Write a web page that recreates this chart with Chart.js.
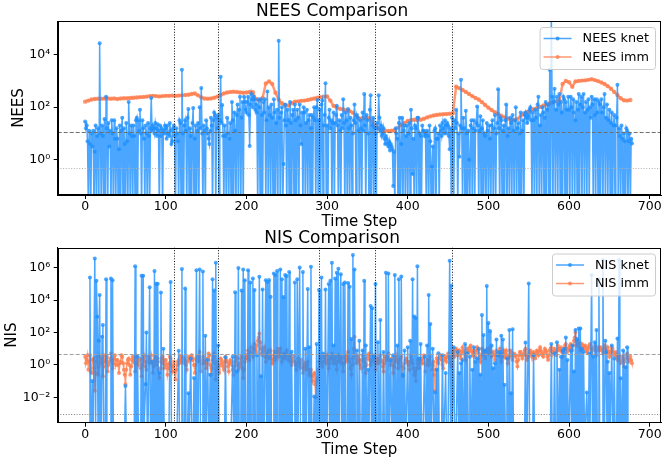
<!DOCTYPE html>
<html>
<head>
<meta charset="utf-8">
<script src="https://cdn.jsdelivr.net/npm/chart.js@4.4.0/dist/chart.umd.min.js"></script>
<style>
  body { margin: 0; background: #fff; }
  #wrap { position: relative; width: 665px; height: 462px; }
  canvas { position: absolute; left: 0; }
</style>
</head>
<body>
<div id="wrap">
  <canvas id="neesChart" width="665" height="231" style="top:0px"></canvas>
  <canvas id="nisChart" width="665" height="238" style="top:224px"></canvas>
</div>
<script>
// values are log10 of the metric (one row = 20 time steps)
// knet series and NIS imm: one value per time step, NEES imm: every 4 steps
const knetStep = 1;
const nisImmStep = 1;
const neesImmStep = 4;

const neesKnet = [
  1.45, 1.2, 1.3, 0.7, -2, 1.1, 0.6, -2, 1.0, 0.5, 1.1, -2, 0.3, 1.3, -2, 0.9, 1.2, -2, 4.43, 1.0,
  -2, 1.3, 0.9, -2, 1.55, -2, 2.4, 1.2, -2, 1.4, 0.5, 1.1, -2, 1.5, 1.0, -2, 1.5, 0.8, -2, 1.2,
  0.8, -2, 0.4, 1.3, -2, 1.1, 1.6, -2, 1.2, 0.6, -2, 1.4, 0.7, -2, 2.2, 1.0, -2, 1.3, 0.9, -2,
  1.3, 0.9, -2, 1.5, 1.6, -2, 1.5, 1.1, 1.9, 1.0, -2, 1.5, 1.2, 0.8, -2, 1.3, 1.0, -2, 1.4, 0.9,
  -2, 1.2, 2.35, 1.1, 1.3, 1.2, 1.0, 1.4, 1.2, 0.9, 1.35, 1.1, -2, 1.3, 0.9, 1.2, -2, 1.1, 1.0, 1.3,
  1.2, 0.8, 1.3, 1.0, 0.9, 1.4, 1.1, 0.6, 0.7, 1.2, 1.3, 0.9, -2, 1.2, 1.0, 0.7, -2, 1.5, 1.4, -2,
  3.42, 1.0, -2, 1.3, 1.5, 1.1, -2, 1.6, 1.93, -2, 1.2, 0.9, -2, 1.4, 1.97, -2, 0.8, 1.3, -2, 1.1,
  1.4, -2, 2.0, 1.2, 2.73, 1.0, -2, 1.3, 1.1, -2, 1.5, 1.2, 1.0, 0.8, 0.6, 1.1, 1.6, 1.3, -2, 1.5,
  1.8, 1.7, -2, 1.6, 1.2, 1.7, -2, 1.5, 3.16, 1.4, 2.08, 0.9, -2, 1.3, 0.9, -2, 1.6, 1.0, -2, 0.8,
  1.4, -2, 2.2, 1.5, -2, 1.8, 1.1, -2, 1.7, 2.1, -2, 1.9, 2.4, -2, 1.6, 2.2, -2, 2.4, 2.2, 1.9,
  1.8, 2.2, 2.4, 1.7, 0.52, 2.1, 2.5, 2.3, 2.0, 2.4, 2.3, 1.9, 2.1, 1.8, -2, 2.3, 2.0, -2, 2.3, 1.7,
  -2, 2.2, 1.8, 2.3, -2, 1.5, 2.6, -2, 2.0, 1.7, -2, 2.1, 1.6, -2, 2.3, 1.8, -2, 1.4, 1.9, -2,
  4.53, 1.6, -2, 1.8, 2.0, -2, -0.16, 1.5, 2.1, 1.3, -2, 1.9, 1.5, -2, 2.2, 1.4, -2, 1.7, 1.9, -2,
  2.1, 1.5, -2, 1.9, 1.6, -2, 2.1, 1.3, 0.6, 1.8, -2, 2.0, 1.8, -2, 1.4, 1.9, -2, 1.5, 1.7, -2,
  1.2, 1.7, -2, 1.6, 2.0, 1.5, -2, 2.0, 2.27, -2, 1.5, 1.9, -2, 2.1, 2.25, -2, 1.3, 1.7, 2.91, -2,
  1.3, -2, 1.6, 1.9, 1.2, 1.5, -2, 1.4, 1.8, -2, 1.4, 1.7, 2.05, 1.3, -2, 1.5, 1.1, -2, 1.7, 1.2,
  2.3, 1.4, -2, 1.8, 1.5, -2, 1.93, 1.2, -2, 1.6, 1.3, -2, 1.0, 1.5, 2.1, 1.4, -2, 1.7, 1.6, 1.1,
  -2, 1.5, 1.2, -2, 1.8, 1.1, 2.5, 1.3, -2, 1.7, 1.5, 1.0, -2, 1.9, 2.45, -2, 1.3, 1.6, -2, 1.2,
  1.0, -2, 1.4, 1.2, 2.45, 1.6, 1.1, 1.3, 0.9, 1.0, 1.2, 0.8, 0.6, 0.9, 0.8, 0.6, 0.5, 0.7, 0.35, 0.6,
  0.5, 0.4, -1.0, 0.3, -2, 1.2, 1.0, 0.8, -2, 1.4, 1.6, -2, 0.6, 1.6, -2, 1.1, 1.3, -2, 0.9, 1.3,
  -2, 1.0, 1.4, -2, 1.9, 1.2, -0.55, 0.8, -2, 1.3, 1.2, -2, 1.6, 1.6, -2, 1.0, 0.9, -2, 1.3, 1.1,
  1.1, 0.9, 1.0, -2, 1.1, 0.9, -2, 1.3, 0.7, -2, -0.27, 0.5, -2, 1.1, 1.2, -2, 0.8, 0.8, 1.0, -2,
  1.3, 1.1, 0.9, 1.4, 1.2, 1.0, 1.5, 1.3, 1.0, 1.4, 1.3, 0.9, 0.4, 1.2, -2, 1.6, 1.1, -2, 1.5, 1.2,
  1.9, 1.4, -2, 1.0, 0.11, 1.3, 3.04, 1.2, -2, 1.6, 1.2, -2, 1.86, 1.0, -2, 1.1, 0.0, -2, 1.3, 1.5,
  -2, 1.2, 1.5, -2, 1.1, 1.4, 2.02, 1.3, -2, 1.1, 1.65, -2, 1.2, 1.5, -2, 1.0, 0.9, -2, 1.4, 1.1,
  -2, 1.3, 0.8, -2, 1.3, 1.5, -2, 1.2, 1.7, -2, 1.0, 1.4, 2.68, 1.2, -2, 1.6, 1.5, -2, 1.1, 1.3,
  -2, 1.5, 2.1, -2, 0.9, 1.2, -2, 1.6, 1.4, -2, 1.7, 1.1, -2, 1.5, 2.0, -2, 1.2, 1.4, -2, 1.0,
  1.8, -2, 1.1, 1.5, -2, 1.7, 1.8, 1.6, 1.4, 1.7, 1.6, 1.9, 2.0, 1.5, -2, 1.8, 1.5, -2, 1.9, 1.6,
  -2, 2.1, 2.4, -2, 1.3, 1.7, -2, 2.0, 1.8, -2, 1.6, 2.2, -2, 1.9, 2.1, -2, 3.42, -2, 5.6, 2.4,
  -2, 2.2, 2.7, -2, 1.9, 2.4, -2, 2.1, 2.5, -2, 2.2, 1.8, -2, 2.4, 2.3, -2, 2.2, 1.9, -2, 2.4,
  1.9, -2, 2.4, 2.0, -2, 2.3, 1.8, -2, 1.5, 2.2, -2, 1.9, 2.5, -2, 2.1, 2.4, -2, 2.0, 2.5, -2,
  1.8, 2.2, -2, 1.9, 2.3, -2, 2.0, 1.6, 2.4, 2.1, -2, 2.3, 1.7, -2, 2.3, 1.8, -2, 2.2, 2.1, -2,
  2.3, 1.8, -2, 2.0, 2.5, -2, 1.6, 2.1, -2, 1.5, 1.9, -2, 1.4, 1.8, -2, 1.3, 1.7, -2, 1.3, 1.6,
  2.85, -2, 1.2, 0.9, -2, 1.3, 0.8, -2, 1.0, 0.7, -2, 1.2, 1.1, -2, 0.7, 1.0, -2, 0.8, 0.62
];

const neesImm = [
  2.21, 2.25, 2.29, 2.31, 2.32, 2.32, 2.33, 2.33, 2.32, 2.33,
  2.31, 2.33, 2.34, 2.34, 2.35, 2.36, 2.37, 2.38, 2.39, 2.40,
  2.42, 2.43, 2.42, 2.41, 2.42, 2.43, 2.43, 2.44, 2.43, 2.44,
  2.45, 2.46, 2.47, 2.50, 2.52, 2.45, 2.37, 2.33, 2.32, 2.33,
  2.36, 2.40, 2.46, 2.52, 2.56, 2.58, 2.59, 2.58, 2.56, 2.55,
  2.56, 2.58, 2.57, 2.30, 2.24, 2.35, 2.90, 2.98, 2.88, 2.55,
  2.28, 2.15, 2.07, 2.06, 2.15, 2.21, 2.22, 2.24, 2.25, 2.27,
  2.30, 2.33, 2.36, 2.38, 2.40, 2.41, 2.25, 2.05, 1.98, 1.94,
  1.91, 1.88, 1.85, 1.79, 1.66, 1.57, 1.58, 1.59, 1.58, 1.45,
  1.27, 1.18, 1.13, 1.10, 1.09, 1.10, 1.12, 1.22, 1.32, 1.40,
  1.47, 1.51, 1.52, 1.51, 1.52, 1.56, 1.61, 1.65, 1.68, 1.70,
  1.72, 1.73, 1.74, 1.75, 1.77, 2.78, 2.72, 2.65, 2.58, 2.50,
  2.42, 2.35, 2.29, 2.19, 2.08, 1.98, 1.89, 1.81, 1.74, 1.67,
  1.61, 1.56, 1.52, 1.51, 1.55, 1.66, 1.76, 1.82, 1.87, 1.92,
  1.96, 2.01, 2.06, 2.10, 2.14, 2.18, 2.22, 2.26, 2.88, 3.00,
  2.95, 2.78, 2.98, 3.00, 3.01, 3.02, 3.04, 3.06, 3.03, 2.99,
  2.94, 2.88, 2.80, 2.70, 2.58, 2.46, 2.34, 2.26, 2.25, 2.27
];

const nisKnet = [
  -4, -4, -4, -4, -4, -4, 5.41, -4, -4, -1.0, -4, -4, 6.58, -4, 5.2, 2.98, -4, 1.5, 4.32, -4,
  -4, 1.75, 2.47, -4, -4, -4, 5.29, -4, -4, -4, -4, -4, 5.35, -4, 5.23, -4, -4, -4, -4, -4,
  -4, -4, -4, -4, -4, -4, -4, -4, -4, -4, -1.3, -4, -4, -4, -4, -4, -4, -4, -4, -4,
  -4, -4, 6.1, -4, -4, 0.5, -4, -4, -4, -4, 5.51, -4, 5.51, -4, -4, -1.2, 2.0, -4, -4, -4,
  4.8, -4, -4, 0.2, -4, -4, 5.8, -4, 5.02, -4, 5.02, -4, -0.5, -4, 4.48, -4, -4, 1.0, -4, -4,
  -4, -4, -4, -4, -4, -4, 5.12, -4, -4, -4, -4, -4, -4, -4, -4, -4, 0.88, -4, -4, -4,
  5.93, -4, -4, -4, 4.73, -4, -4, -4, -1.75, -4, -4, 0.4, -4, -4, -4, -0.8, -4, -4, 5.86, -4,
  -4, -4, 5.9, -4, -4, -4, 5.77, -4, -4, 1.8, -4, -4, 0.3, -4, -4, -0.6, -4, -4, 5.3, -4,
  4.6, -4, 6.32, -4, -4, 1.2, -4, -4, -4, -4, -4, -4, -4, -4, 0.47, -4, -4, -4, -4, -4,
  -4, -4, -4, 0.5, -4, -4, 4.5, -4, -0.4, -4, 5.99, -4, -4, -4, 4.6, -4, 5.9, -4, 5.23, -4,
  -4, -4, 5.86, -4, -4, 5.1, -4, -4, 5.35, -4, 4.63, -4, -4, 0.6, -4, -4, 5.45, -4, -0.7, -4,
  4.67, -4, -4, -4, 5.23, -4, 5.13, -4, 5.25, -4, 4.22, -4, -4, -4, 5.66, -4, 5.56, -4, 5.8, -4,
  -4, -4, 5.9, -4, 5.29, -4, 4.2, -4, 5.56, -4, 5.5, -4, -4, 5.75, -4, -4, 0.82, -4, -4, -4,
  5.1, -4, -4, 5.3, -4, -4, 6.03, -4, -4, -4, 5.75, -4, -4, 1.0, -4, -4, 4.7, -4, 1.1, -4,
  6.07, -4, -4, -4, -1.95, -4, -4, 1.3, -4, -4, 4.63, -4, -4, 5.4, -4, 0.7, -4, -4, 4.67, -4,
  -4, -4, 5.0, -4, 5.2, -4, 6.32, -4, 1.2, -4, 5.35, -4, 5.7, -4, 5.95, -4, -4, 5.6, -4, -4,
  5.0, -4, 5.1, -4, -4, -4, 5.06, -4, 4.83, -4, 1.6, -4, 6.79, -4, 5.9, -4, -4, 0.9, -4, -4,
  1.5, -4, -4, -4, 0.9, -4, 5.2, -4, 1.2, -4, -4, -0.3, -4, -4, 3.64, -4, 3.5, -4, 0.5, -4,
  5.0, -4, -4, 1.4, -4, -4, 2.78, -4, -4, -4, 0.8, -4, -4, 5.7, -4, -4, 5.66, -4, -4, 0.3,
  -4, -4, 0.6, -4, 5.56, -4, -4, 1.2, -4, 5.3, -4, -4, 5.46, -4, -0.6, -4, 0.9, -4, -4, -4,
  1.1, -4, -4, 1.5, -4, -4, 5.3, -4, 3.0, -4, 2.9, -4, 6.1, -4, 0.4, -4, 1.3, -4, -4, -4,
  -4, 0.5, -4, -4, 1.2, -4, 4.32, -4, 2.53, -4, -4, 1.0, -4, -4, -1.7, -4, -0.3, -4, 0.72, -4,
  -4, -4, -4, 0.6, -4, -4, -4, -0.5, -4, -4, -4, -4, 6.44, -4, 4.9, -4, -4, 1.1, -4, -4,
  -4, -4, 0.8, -4, -0.5, -4, 0.1, -4, 0.3, -4, -4, 1.3, -4, -4, 0.72, -4, -4, 0.5, -4, -4,
  -0.3, -4, 1.1, -4, 0.2, -4, 0.4, -4, 1.0, -4, -0.6, -4, 3.09, -4, 1.85, -4, 0.9, -4, 4.88, -4,
  2.6, -4, 2.1, -4, 1.2, -4, -0.2, -4, 0.1, -4, 1.58, -4, 0.6, -4, 0.8, -4, 1.8, -4, 1.58, -4,
  -1.23, -4, -4, 0.4, -4, -4, 2.16, -4, -1.75, -4, 2.2, -4, -4, -4, -4, -4, -4, -4, -4, -4,
  -4, -4, -4, -4, -4, -4, 1.38, -4, -4, -4, 5.04, -4, -4, -4, -4, -4, 0.6, -4, -4, -4,
  -4, -4, -4, -4, -4, -4, -4, -4, -4, -4, -4, -4, -4, -4, -4, -4, -4, -4, 1.3, -4,
  -4, -4, 0.72, -4, -4, 1.4, -4, -4, -0.3, -4, 0.5, -4, 0.9, -4, 1.0, -4, 1.7, -4, 0.31, -4,
  -4, -4, 0.9, -4, 1.2, -4, -0.4, -4, 2.16, -4, 1.6, -4, 2.26, -4, 2.26, -4, 1.0, -4, 0.82, -4,
  -4, -4, -1.7, -4, -4, 0.7, -4, -4, 5.56, -4, 0.5, -4, 1.4, -4, 2.16, -4, -4, 5.3, -4, -4,
  -4, -4, 6.48, -4, -4, 1.5, 0.8, -4, 0.2, -4, -0.5, -4, -4, 1.2, -4, -4, 0.4, -4, -4, -4,
  1.64, -4, 6.48, -4, -0.82, -4, -4, 0.9, -4, -4, -0.15, -4, 1.1, -4, -4, -4, -4, -4, -4
];

const nisImm = [
  0.5, 0.1, 0.3, 0.6, -0.3, 0.2, 0.6, -0.4, -0.5, 0.3, 0.4, -0.2, -1.6, -0.5, 0.2, 0.5, -0.6, -0.1, 0.5, 0.2,
  0.1, 0.4, -0.7, -0.1, 0.6, 0.2, 0.3, 0.5, -0.4, 0.0, 0.2, 0.4, 0.7, 0.3, -0.2, 0.1, 0.4, 0.6, 0.0, 0.3,
  0.3, 0.0, -0.5, 0.1, 0.2, 0.6, 0.5, 0.1, -0.3, -0.6, -1.2, -0.3, 0.1, 0.3, 0.4, 0.0, -0.6, -0.1, 0.3, 0.5,
  0.2, 0.4, -0.4, 0.1, 0.5, 0.2, 0.0, 0.4, 0.3, -0.2, -0.7, 0.0, 0.4, 0.6, 0.2, -0.1, -0.3, 0.2, 0.5, 0.3,
  0.1, 0.3, 0.6, 0.1, -0.5, -0.1, 0.3, 0.5, 0.0, 0.2, 0.4, -0.3, -0.8, -0.2, 0.2, 0.4, 0.5, 0.1, -0.2, 0.3,
  0.3, 0.0, -0.6, -0.2, 0.1, 0.5, 0.4, 0.0, -0.4, -0.1, 0.2, -0.4, -0.9, -0.3, 0.0, 0.2, 0.3, 0.1, 0.5, 0.3,
  0.2, 0.5, 0.4, 0.1, 0.3, 0.0, -0.3, 0.2, 0.5, 0.4, 0.3, 0.5, 0.6, 0.3, 0.4, 0.0, -0.5, 0.0, 0.3, 0.5,
  0.2, 0.5, 0.8, 0.3, -0.4, 0.1, 0.5, 0.3, 0.1, 0.2, -0.2, 0.1, 0.4, 0.7, 0.6, 0.0, -0.6, -0.2, 0.3, 0.5,
  0.7, 0.1, -0.9, -0.3, 0.2, -0.1, -0.5, 0.0, 0.4, 0.3, 0.1, -0.1, -0.3, 0.2, 0.5, 0.3, 0.2, -0.1, -0.4, 0.1,
  0.3, 0.2, 0.0, -0.3, -0.6, -0.1, 0.2, 0.5, 0.4, 0.0, -0.3, -0.1, 0.1, 0.4, 0.5, -0.2, -0.8, -0.3, 0.2, 0.4,
  0.6, 0.4, 0.9, 0.6, 0.3, 0.8, 1.1, 0.7, 0.5, 1.0, 1.3, 1.0, 0.8, 1.2, 1.5, 1.7, 1.95, 1.4, 1.0, 0.7,
  0.6, 0.9, 1.1, 0.5, 0.2, 0.5, 0.7, 0.9, 0.4, 0.6, 0.9, 0.4, 0.1, 0.3, 0.6, 0.8, 0.3, 0.5, 0.8, 1.0,
  0.5, 0.8, 1.0, 0.6, 0.2, 0.4, 0.7, 0.5, 0.4, 0.7, 0.9, 0.6, 0.3, 0.5, 0.6, 0.2, 0.0, 0.3, 0.5, 0.2,
  0.2, 0.0, -0.3, 0.1, 0.4, 0.2, -0.1, 0.1, 0.3, -0.2, -0.5, -0.1, 0.1, -0.3, -0.2, 0.0, 0.2, -0.3, -0.6, -0.4,
  -0.3, -0.7, -1.0, -0.6, -0.5, -1.2, -2.0, -1.0, -0.8, -0.3, 0.2, 0.5, 0.4, 0.1, -0.1, 0.2, 0.5, 0.6, 0.3, 0.1,
  0.6, 0.3, -0.2, 0.1, 0.4, 0.5, 0.7, 0.3, 0.1, 0.4, 0.5, 0.1, -0.3, 0.2, 0.6, 0.4, 0.2, 0.5, 0.4, 0.1,
  -0.4, 0.1, 0.5, 0.2, 0.3, 0.6, 0.8, 0.4, 0.2, -0.2, -0.6, 0.0, 0.4, 1.0, 1.75, 0.6, 0.1, 0.3, 0.5, 0.2,
  0.3, 0.0, -0.2, 0.3, 0.6, 0.4, 0.2, -0.1, -0.5, 0.0, 0.4, 0.6, 0.7, 0.3, 0.0, 0.2, 0.3, 0.6, 0.5, 0.2,
  -0.3, 0.1, 0.4, 0.2, 0.1, 0.4, 0.6, 0.3, 0.2, -0.1, -0.4, 0.1, 0.5, 0.4, 0.3, 0.5, 0.7, 0.3, 0.0, 0.2,
  0.4, 0.0, -0.5, -0.1, 0.2, 0.4, 0.6, 0.2, -0.2, 0.1, 0.3, 0.4, 0.5, -0.1, -0.7, -0.2, 0.1, 0.3, 0.4, 0.2,
  0.2, 0.0, -0.3, 0.2, 0.5, 0.3, 0.1, -0.2, -0.6, -0.4, -1.0, -0.2, 0.3, 0.1, -0.2, 0.2, 0.4, 0.3, 0.1, 0.4,
  0.6, 0.1, -0.4, 0.0, 0.3, 0.2, 0.0, 0.3, 0.5, 0.1, -0.3, 0.0, 0.2, -0.6, -1.6, -0.3, 0.4, 0.2, 0.1, 0.4,
  0.6, 0.4, 0.3, 0.0, -0.2, 0.3, 0.5, 0.4, 0.2, 0.5, 0.7, 0.5, 0.4, 0.1, -0.1, 0.5, 0.8, 0.6, 0.5, 0.9,
  1.0, 0.8, 0.6, 0.9, 0.9, 0.6, 0.4, 0.8, 1.1, 0.9, 0.7, 0.5, 0.3, 0.7, 1.0, 0.9, 0.8, 1.1, 1.2, 0.9,
  0.6, 0.8, 0.9, 0.7, 0.5, 0.9, 1.1, 0.9, 0.7, 0.4, 0.2, 0.6, 1.0, 0.9, 0.8, 0.6, 0.4, 0.7, 0.9, 1.0,
  0.7, 0.9, 1.1, 0.8, 0.5, 0.6, 0.8, 0.6, 0.3, 0.6, 0.9, 0.8, 0.6, 0.8, 1.0, 0.5, 0.2, 0.5, 0.7, 0.9,
  0.5, 0.7, 0.9, 0.5, 0.1, 0.4, 0.6, 0.9, 0.8, 0.5, 0.3, 0.6, 0.7, 0.6, 0.5, 0.2, -0.1, 0.3, 0.6, 0.8,
  0.8, 0.6, 0.4, 0.6, 0.7, 0.9, 1.0, 0.6, 0.3, 0.5, 0.6, 0.8, 0.9, 0.7, 0.5, 0.7, 0.8, 0.6, 0.4, 0.7,
  0.9, 0.8, 0.6, 0.9, 1.1, 0.9, 0.7, 0.6, 0.5, 0.8, 1.0, 0.9, 0.8, 0.5, 0.3, 0.6, 0.9, 1.0, 1.1, 0.8,
  0.7, 0.9, 1.0, 0.8, 0.6, 0.9, 1.2, 1.0, 0.9, 1.0, 1.1, 0.8, 0.5, 0.8, 1.0, 1.2, 1.3, 1.0, 0.8, 1.0,
  1.1, 1.2, 1.3, 1.0, 0.9, 1.2, 1.5, 1.7, 2.0, 1.5, 1.2, 1.3, 1.4, 1.1, 0.9, 1.1, 1.3, 1.2, 1.0, 1.1,
  1.2, 1.0, 0.8, 0.9, 1.1, 1.2, 1.3, 1.0, 0.7, 0.9, 1.0, 1.1, 1.2, 0.9, 0.6, 0.9, 1.1, 1.0, 0.9, 1.1,
  1.0, 0.9, 0.7, 1.0, 1.2, 1.0, 0.8, 0.9, 1.1, 0.8, 0.5, 0.7, 0.9, 1.1, 1.0, 0.8, 0.6, 0.7, 0.8, 0.5,
  0.3, 0.5, 0.6, 0.3, 0.1, 0.2, 0.5, 0.3, -0.1, 0.2, 0.4, 0.6, 0.7, 0.4, 0.2, 0.3, 0.5, 0.3, 0.1
];

// dotted vertical lines (segment changes)
const phaseChanges = [110, 165, 290, 360, 455];
// chi-square bounds
const neesBounds = { upper: 11.14, lower: 0.484 };
const nisBounds = { upper: 5.024, lower: 0.00098 };

const xTicks = [0, 100, 200, 300, 400, 500, 600, 700];
const neesYTicks = [1, 100, 10000];
const nisYTicks = [0.01, 1, 100, 10000, 1000000];

const knetColor = 'rgba(30, 144, 255, 0.8)';
const immColor = 'rgba(255, 127, 80, 0.8)';
const FONT = 'DejaVu Sans';

function toPoints(vals, step) {
    return vals.map((v, i) => ({ x: i * step, y: Math.pow(10, v) }));
}

function sup(n) {
    const map = { '-': '\u207B', '0': '\u2070', '1': '\u00B9', '2': '\u00B2', '3': '\u00B3', '4': '\u2074',
                  '5': '\u2075', '6': '\u2076', '7': '\u2077', '8': '\u2078', '9': '\u2079' };
    return String(n).split('').map(c => map[c]).join('');
}

// reference lines, drawn over the data
const refLines = {
    id: 'refLines',
    afterDatasetsDraw(chart, args, opts) {
        const { ctx, chartArea: a, scales: { x, y } } = chart;
        ctx.save();
        ctx.beginPath();
        ctx.rect(a.left, a.top, a.width, a.height);
        ctx.clip();
        ctx.lineWidth = 1;
        opts.hLines.forEach(h => {
            ctx.strokeStyle = h.color;
            ctx.setLineDash(h.dash);
            const py = Math.round(y.getPixelForValue(h.value)) + 0.5;
            ctx.beginPath(); ctx.moveTo(a.left, py); ctx.lineTo(a.right, py); ctx.stroke();
        });
        ctx.strokeStyle = '#111';
        ctx.setLineDash([1, 1.7]);
        phaseChanges.forEach(t => {
            const px = Math.round(x.getPixelForValue(t)) + 0.5;
            ctx.beginPath(); ctx.moveTo(px, a.top); ctx.lineTo(px, a.bottom); ctx.stroke();
        });
        ctx.restore();
    }
};

// axes frame + matplotlib style legend box
const frameLegend = {
    id: 'frameLegend',
    afterDraw(chart) {
        const { ctx, chartArea: a } = chart;
        ctx.save();
        ctx.strokeStyle = '#000';
        ctx.lineWidth = 1;
        ctx.strokeRect(Math.round(a.left) + 0.5, Math.round(a.top) + 0.5,
                       Math.round(a.width) - 1, Math.round(a.height) - 1);

        const sets = chart.data.datasets;
        ctx.font = '12.8px "' + FONT + '"';
        const textW = Math.max(...sets.map(d => ctx.measureText(d.label).width));
        const w = 4 + 28 + 11 + textW + 6;
        const h = 42;
        const right = a.right - 6;
        const left = right - w;
        const top = a.top + 6;
        ctx.beginPath();
        ctx.roundRect(left + 0.5, top + 0.5, w, h, 3);
        ctx.fillStyle = 'rgba(255,255,255,0.8)';
        ctx.fill();
        ctx.strokeStyle = '#cccccc';
        ctx.stroke();
        sets.forEach((d, i) => {
            const yy = top + 11.5 + i * 18.5;
            ctx.strokeStyle = d.borderColor;
            ctx.lineWidth = 1.5;
            ctx.beginPath(); ctx.moveTo(left + 4, yy); ctx.lineTo(left + 32, yy); ctx.stroke();
            ctx.fillStyle = d.borderColor;
            ctx.beginPath(); ctx.arc(left + 18, yy, 2, 0, Math.PI * 2); ctx.fill();
            ctx.fillStyle = '#000';
            ctx.textBaseline = 'middle';
            ctx.fillText(d.label, left + 43, yy + 0.5);
        });
        ctx.restore();
    }
};

function makeChart(id, cfg) {
    const ctx = document.getElementById(id).getContext('2d');
    return new Chart(ctx, {
        type: 'line',
        data: {
            datasets: [{
                label: cfg.knetLabel,
                data: cfg.knet,
                borderColor: knetColor,
                backgroundColor: knetColor,
                borderWidth: 1.5,
                pointRadius: 2,
                pointBorderWidth: 0,
                tension: 0
            }, {
                label: cfg.immLabel,
                data: cfg.imm,
                borderColor: immColor,
                backgroundColor: immColor,
                borderWidth: cfg.immWidth,
                pointRadius: cfg.immRadius,
                pointBorderWidth: 0,
                tension: 0
            }]
        },
        options: {
            responsive: false,
            animation: false,
            devicePixelRatio: 1,
            parsing: false,
            normalized: true,
            layout: { padding: { left: 0, right: 0.7, top: 0, bottom: 0 } },
            plugins: {
                legend: { display: false },
                tooltip: { enabled: false },
                title: {
                    display: true,
                    text: cfg.title,
                    color: '#000',
                    font: { family: FONT, size: 17, weight: 'normal', lineHeight: 1 },
                    padding: cfg.titlePad
                },
                refLines: { hLines: cfg.hLines }
            },
            scales: {
                x: {
                    type: 'linear',
                    min: -34,
                    max: 714,
                    afterBuildTicks: (scale) => { scale.ticks = xTicks.map(v => ({ value: v })); },
                    afterFit: (scale) => {
                        scale.height = cfg.xAxisHeight;
                        scale.paddingLeft = 0;
                        scale.paddingRight = 0;
                    },
                    ticks: { color: '#000', font: { family: FONT, size: 12.5, lineHeight: 1 }, padding: 1.5, maxRotation: 0 },
                    grid: { drawOnChartArea: false, drawTicks: true, tickLength: 4, color: '#000' },
                    border: { display: true, color: '#000' },
                    title: {
                        display: true, text: 'Time Step', color: '#000',
                        font: { family: FONT, size: 15, lineHeight: 1.2 },
                        padding: { top: 0, bottom: cfg.xTitlePad }
                    }
                },
                y: {
                    type: 'logarithmic',
                    min: cfg.yMin,
                    max: cfg.yMax,
                    afterBuildTicks: (scale) => { scale.ticks = cfg.yTicks.map(v => ({ value: v })); },
                    afterFit: (scale) => {
                        scale.width = 57.7;
                        scale.paddingTop = 0;
                        scale.paddingBottom = 0;
                    },
                    ticks: {
                        color: '#000',
                        font: { family: FONT, size: 12.5 },
                        padding: 3.5,
                        callback: (v) => '10' + sup(Math.round(Math.log10(v)))
                    },
                    grid: { drawOnChartArea: false, drawTicks: true, tickLength: 4, color: '#000' },
                    border: { display: true, color: '#000' },
                    title: {
                        display: true, text: cfg.yLabel, color: '#000',
                        font: { family: FONT, size: 15, lineHeight: 1.2 },
                        padding: { top: cfg.yTitlePad, bottom: 0 }
                    }
                }
            }
        },
        plugins: [refLines, frameLegend]
    });
}

makeChart('neesChart', {
    title: 'NEES Comparison',
    titlePad: { top: 3, bottom: 1 },
    knetLabel: 'NEES knet',
    immLabel: 'NEES imm',
    knet: toPoints(neesKnet, knetStep),
    imm: toPoints(neesImm, neesImmStep),
    immWidth: 2.5,
    immRadius: 2.2,
    yMin: Math.pow(10, -1.345),
    yMax: Math.pow(10, 5.28),
    yTicks: neesYTicks,
    yLabel: 'NEES',
    yTitlePad: 10.5,
    xAxisHeight: 36,
    xTitlePad: 0,
    hLines: [
        { value: neesBounds.upper, color: '#707070', dash: [4, 2] },
        { value: neesBounds.lower, color: '#b0b0b0', dash: [1, 1.7] }
    ]
});

makeChart('nisChart', {
    title: 'NIS Comparison',
    titlePad: { top: 6.5, bottom: 0 },
    knetLabel: 'NIS knet',
    immLabel: 'NIS imm',
    knet: toPoints(nisKnet, knetStep),
    imm: toPoints(nisImm, nisImmStep),
    immWidth: 1.5,
    immRadius: 2,
    yMin: Math.pow(10, -3.57),
    yMax: Math.pow(10, 7.26),
    yTicks: nisYTicks,
    yLabel: 'NIS',
    yTitlePad: 2.7,
    xAxisHeight: 39.3,
    xTitlePad: 3,
    hLines: [
        { value: nisBounds.upper, color: '#a0a0a0', dash: [4, 2] },
        { value: nisBounds.lower, color: '#808080', dash: [1, 1.7] }
    ]
});
</script>
</body>
</html>
